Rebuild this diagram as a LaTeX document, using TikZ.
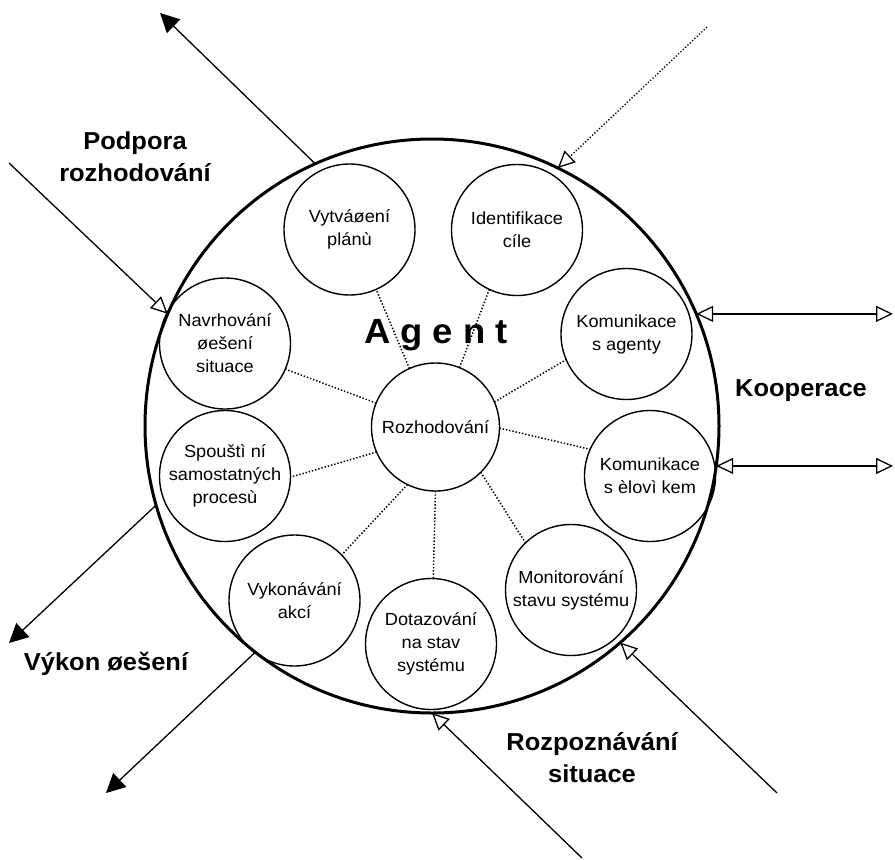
\documentclass[tikz,border=0pt]{standalone}
\usepackage{fontspec}
\setmainfont{Liberation Sans}[FakeStretch=1.04]
\usetikzlibrary{arrows.meta}

\begin{document}
\begin{tikzpicture}[x=1pt,y=-1pt,
  every node/.style={inner sep=0pt, outer sep=0pt},
  agentring/.style={circle, draw, line width=3pt, minimum size=574pt},
  part/.style={circle, draw, line width=1.4pt, minimum size=131pt,
    align=center, font=\fontsize{17.5}{23}\selectfont},
  link/.style={line width=1.5pt, dash pattern=on 1.4pt off 1.9pt},
  caption/.style={align=center, font=\fontsize{24.5}{32}\selectfont\bfseries},
  outarrow/.style={line width=1.3pt, -{Triangle[length=19pt,width=19pt]}},
  inarrow/.style={line width=1.3pt, -{Triangle[open,length=17pt,width=16pt]}},
  bothways/.style={line width=1.3pt,
    {Triangle[open,length=17pt,width=16pt]}-{Triangle[open,length=17pt,width=16pt]}}
]
\useasboundingbox (0,0) rectangle (895,860);

% outer boundary of the agent
\node[agentring] (agent) at (432,426) {};
\node[font=\fontsize{35}{35}\selectfont\bfseries, anchor=base] (title) at (436,343) {A g e n t};

% central decision module
\node[circle, draw, line width=1.4pt, minimum size=128pt, font=\fontsize{17.5}{23}\selectfont] (rozh) at (435.5,427) {Rozhodování};

% surrounding modules
\node[part] (vytv)  at (349.5,229.5) {Vytváøení\\plánù};
\node[part] (ident) at (517,230)     {Identifikace\\cíle};
\node[part] (koma)  at (626.5,334)   {Komunikace\\s agenty};
\node[part] (komc)  at (650,476)     {Komunikace\\s èlovì kem};
\node[part] (moni)  at (571,590)     {Monitorování\\stavu systému};
\node[part] (dotaz) at (431,644)     {Dotazování\\na stav\\systému};
\node[part] (vykon) at (294.5,600.5) {Vykonávání\\akcí};
\node[part] (spou)  at (225,476)     {Spouštì ní\\samostatných\\procesù};
\node[part] (navrh) at (225,343.5)   {Navrhování\\øešení\\situace};

% dotted links to the decision module
\draw[link] (rozh.114) -- (vytv.294.5);
\draw[link] (rozh.68)  -- (ident.245.7);
\draw[link] (rozh.23)  -- (koma.203.4);
\draw[link] (rozh.359) -- (komc.156);
\draw[link] (rozh.315) -- (moni.134);
\draw[link] (rozh.270) -- (dotaz.88);
\draw[link] (rozh.244.6) -- (vykon.44.5);
\draw[link] (rozh.203.3) -- (spou.359);
\draw[link] (rozh.158.4) -- (navrh.337);

% free ends of the external connectors
\coordinate (supOut) at (160,13);
\coordinate (supIn)  at (9,163);
\coordinate (goalIn) at (707,27);
\coordinate (coopEnd) at (893,0);
\coordinate (runOut) at (9,643);
\coordinate (actOut) at (106,793);
\coordinate (recA)   at (582,858);
\coordinate (recB)   at (777,793);

% external connectors
\draw[outarrow] (agent.114.7) -- (supOut);
\draw[inarrow] (supIn) -- (agent.157.4);
\draw[inarrow, dash pattern=on 1.3pt off 1.9pt] (goalIn) -- (agent.64.7);
\draw[bothways] (agent.23.2) -- (agent.23.2 -| coopEnd);
\draw[bothways] (agent.352.3) -- (agent.352.3 -| coopEnd);
\draw[outarrow] (agent.196.6) -- (runOut);
\draw[outarrow] (agent.232.3) -- (actOut);
\draw[inarrow] (recA) -- (agent.270.6);
\draw[inarrow] (recB) -- (agent.311.7);

% captions
\node[caption] (podpora) at (135,157) {Podpora\\rozhodování};
\node[caption, anchor=base] (koop) at (801,396) {Kooperace};
\node[caption, anchor=base] (vykres) at (106,670) {Výkon øešení};
\node[caption] (rozp) at (592,758) {Rozpoznávání\\situace};
\end{tikzpicture}
\end{document}
